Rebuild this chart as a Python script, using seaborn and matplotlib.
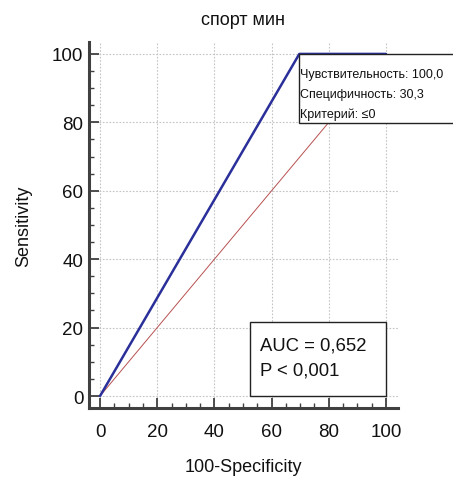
import matplotlib
matplotlib.use("Agg")
import matplotlib.pyplot as plt
import seaborn as sns
import pandas as pd
from matplotlib.patches import Rectangle
from matplotlib.ticker import MultipleLocator

fpr = [0, 69.7, 100]
tpr = [0, 100, 100]
diag_x = [0, 100]
diag_y = [0, 100]
title = "спорт мин"
tooltip_lines = ["Чувствительность: 100,0", "Специфичность: 30,3", "Критерий: ≤0"]
auc_lines = ["AUC = 0,652", "P < 0,001"]

sns.set_theme(style="white")
plt.rcParams['font.family'] = ['Liberation Sans', 'DejaVu Sans']

fig = plt.figure(figsize=(4.53, 4.81), dpi=100)
ax = fig.add_axes([0.1965, 0.1497, 0.682, 0.761])

roc = pd.DataFrame({"x": fpr, "y": tpr})
dg = pd.DataFrame({"x": diag_x, "y": diag_y})
sns.lineplot(data=dg, x="x", y="y", sort=False, color="#B85050", lw=0.7, ax=ax, zorder=3)
sns.lineplot(data=roc, x="x", y="y", sort=False, color="#2A2F9A", lw=1.8, ax=ax, zorder=4)

ax.set_xlim(-3.85, 104.2)
ax.set_ylim(-3.5, 103.5)
ax.xaxis.set_major_locator(MultipleLocator(20))
ax.yaxis.set_major_locator(MultipleLocator(20))
ax.xaxis.set_minor_locator(MultipleLocator(5))
ax.yaxis.set_minor_locator(MultipleLocator(5))
ax.grid(True, which="major", color="#C4C4C4", ls=(0, (1.5, 1.5)), lw=0.8)
for s in ["top", "right"]:
    ax.spines[s].set_visible(False)
for s in ["left", "bottom"]:
    ax.spines[s].set_color("#404040")
    ax.spines[s].set_linewidth(2.2)
ax.tick_params(which="major", direction="in", length=7.5, width=1.3, color="#404040",
               labelsize=13.5, labelcolor="#111111", bottom=True, left=True)
ax.tick_params(axis="x", which="major", pad=11)
ax.tick_params(axis="y", which="major", pad=4)
ax.tick_params(which="minor", direction="in", length=3.8, width=1.0, color="#404040",
               bottom=True, left=True)
ax.set_xlabel("100-Specificity", fontsize=13, color="#111111", labelpad=13)
ax.set_ylabel("Sensitivity", fontsize=13, color="#111111", labelpad=14)
ax.set_title(title, fontsize=13, color="#111111", pad=13)

# tooltip box (runs off the right edge of the figure)
ax.add_patch(Rectangle((69.7, 79.8), 80, 20.2, facecolor="white", edgecolor="#222222",
                       lw=1.0, clip_on=False, zorder=6))
for i, t in enumerate(tooltip_lines):
    ax.text(70.0, 94.2 - i * 5.8, t, fontsize=9, color="#111111", va="center", ha="left",
            zorder=7, clip_on=False)

# AUC box
ax.add_patch(Rectangle((52.5, 0.0), 47.5, 21.6, facecolor="white", edgecolor="#222222",
                       lw=1.0, zorder=6))
for i, t in enumerate(auc_lines):
    ax.text(56.0, 15.0 - i * 7.4, t, fontsize=13.3, color="#111111", va="center", ha="left",
            zorder=7)

fig.savefig("out.png", dpi=100)
